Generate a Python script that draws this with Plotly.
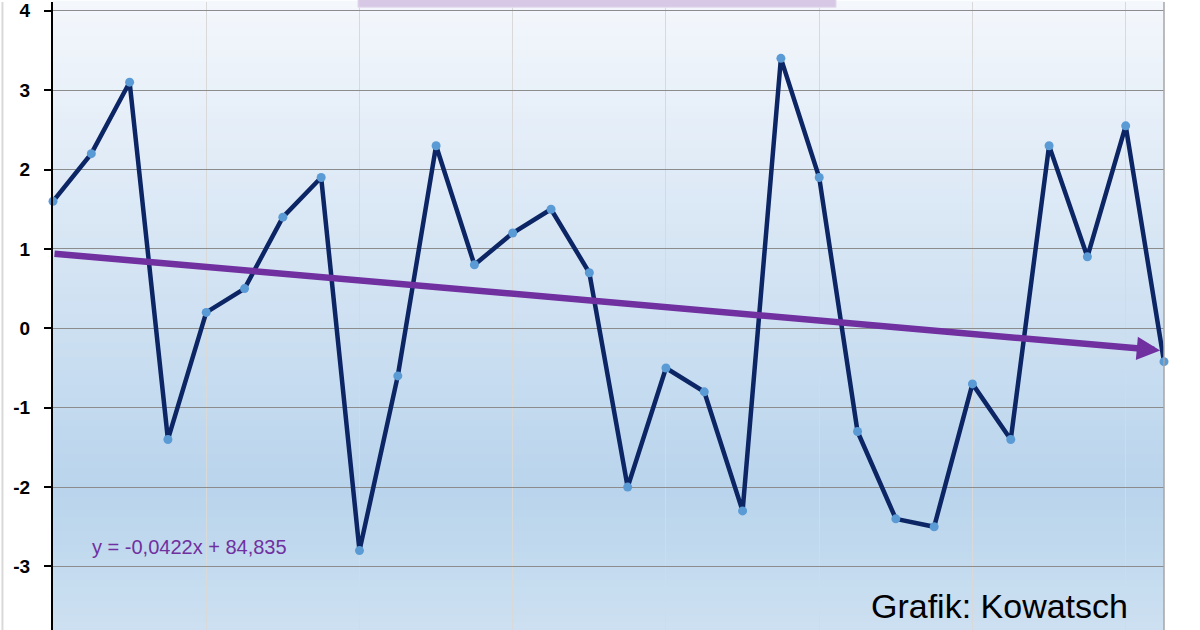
import plotly.graph_objects as go

years = list(range(1988, 2018))
values = [1.6, 2.2, 3.1, -1.4, 0.2, 0.5, 1.4, 1.9, -2.8, -0.6,
          2.3, 0.8, 1.2, 1.5, 0.7, -2.0, -0.5, -0.8, -2.3, 3.4,
          1.9, -1.3, -2.4, -2.5, -0.7, -1.4, 2.3, 0.9, 2.55, -0.42]
y_ticks = [-3, -2, -1, 0, 1, 2, 3, 4]
slope = -0.0422
intercept = 84.835
trend_label = "y = -0,0422x + 84,835"
credit = "Grafik: Kowatsch"

FONT = "Liberation Sans, Arial, sans-serif"

fig = go.Figure()

fig.add_trace(go.Scatter(
    x=years, y=values, mode="lines+markers",
    line=dict(color="#0c2564", width=4.5),
    marker=dict(color="#5b9bd5", size=9),
    cliponaxis=False, showlegend=False, hoverinfo="x+y",
))

# gradient background bands
def hex2rgb(h):
    h = h.lstrip("#")
    return tuple(int(h[i:i+2], 16) for i in (0, 2, 4))

stops = [(0.0, "#f4f7fc"), (0.78, "#b9d4ec"), (1.0, "#cde0f1")]
def color_at(t):
    for (t0, c0), (t1, c1) in zip(stops[:-1], stops[1:]):
        if t0 <= t <= t1:
            f = (t - t0) / (t1 - t0)
            a, b = hex2rgb(c0), hex2rgb(c1)
            return "rgb(%d,%d,%d)" % tuple(round(a[i] + (b[i] - a[i]) * f) for i in range(3))
    return stops[-1][1]

N = 90
shapes = []
for i in range(N):
    top = 1 - i / N
    bot = 1 - (i + 1) / N
    shapes.append(dict(type="rect", xref="paper", yref="paper", x0=0, x1=1,
                       y0=bot, y1=top + 0.002, fillcolor=color_at((i + 0.5) / N),
                       line=dict(width=0), layer="below"))
# title box remnant at top
shapes.append(dict(type="rect", xref="paper", yref="paper", x0=0.2745, x1=0.7048,
                   y0=0.9915, y1=1.01, fillcolor="#d7c9e5",
                   line=dict(color="#e4dcef", width=1), layer="above"))
# right border of plot area
shapes.append(dict(type="line", xref="paper", yref="paper", x0=1, x1=1, y0=0, y1=1,
                   line=dict(color="#a6a6a6", width=1.5)))
# left border of chart area
shapes.append(dict(type="line", xref="paper", yref="paper", x0=-0.0455, x1=-0.0455,
                   y0=0, y1=1, line=dict(color="#d9d9d9", width=2)))

x_start, x_end = years[0], years[-1] - 0.1
annotations = [
    dict(x=x_end, y=slope * x_end + intercept, ax=x_start, ay=slope * x_start + intercept,
         xref="x", yref="y", axref="x", ayref="y", showarrow=True, text="",
         arrowhead=2, arrowsize=0.72, arrowwidth=6.5, arrowcolor="#7030a0"),
    dict(x=years[1] - 0.03, y=-2.75, xref="x", yref="y", text=trend_label,
         showarrow=False, xanchor="left", yanchor="middle",
         font=dict(family=FONT, size=20, color="#7030a0")),
    dict(x=2016.1, y=-3.5, xref="x", yref="y", text=credit, showarrow=False,
         xanchor="right", yanchor="middle",
         font=dict(family=FONT, size=34, color="#000000")),
]

y_range = [-3.8, 4.11]
fig.update_layout(
    width=1200, height=630,
    margin=dict(l=53, r=36, t=0, b=0),
    paper_bgcolor="white", plot_bgcolor="rgba(0,0,0,0)",
    shapes=shapes, annotations=annotations,
    font=dict(family=FONT),
    xaxis=dict(range=[years[0], years[-1]], tick0=years[0], dtick=4,
               showgrid=True, gridcolor="#d9d9d9", gridwidth=1,
               showticklabels=False, zeroline=False, showline=False),
    yaxis=dict(range=y_range, tickvals=y_ticks, ticktext=[str(v) for v in y_ticks],
               showgrid=True, gridcolor="#8c8c8c", gridwidth=1.3,
               zeroline=False, showline=True, linecolor="#000000", linewidth=2,
               ticks="outside", ticklen=7, tickwidth=2, tickcolor="#000000",
               ticklabelstandoff=10, ticklabeloverflow="allow",
               tickfont=dict(family=FONT, size=19, color="#000000", weight="bold")),
    yaxis2=dict(range=y_range, tickvals=y_ticks, overlaying="y", side="left",
                showgrid=False, zeroline=False, showline=False, showticklabels=False,
                ticks="inside", ticklen=5, tickwidth=2, tickcolor="#000000"),
)

fig.write_html("out.html", config={"displayModeBar": False},
               post_script="document.body.style.margin='0';document.body.style.padding='0';")
